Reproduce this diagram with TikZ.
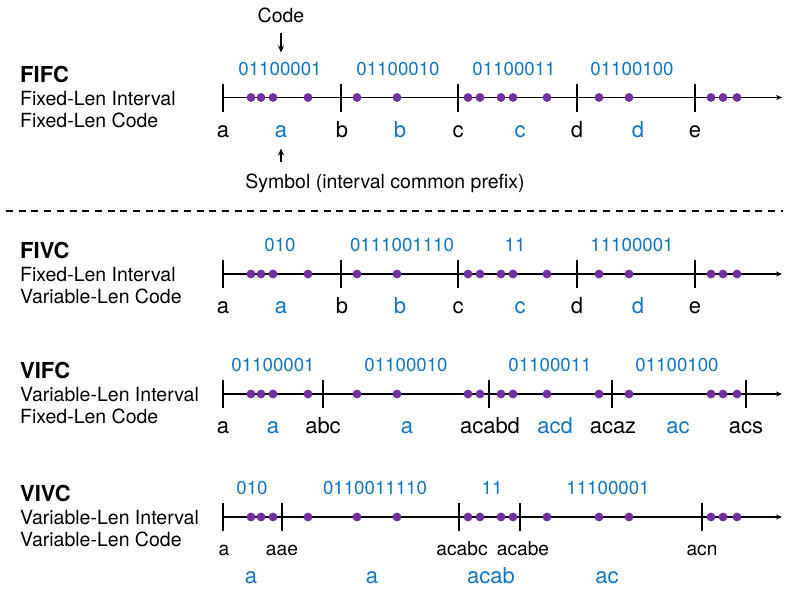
\documentclass[tikz,border=0pt]{standalone}
\usepackage{fontspec}
\setmainfont{TeX Gyre Heros}
\usetikzlibrary{arrows.meta}
\definecolor{codeblue}{RGB}{16,117,196}
\definecolor{dotpurple}{RGB}{112,48,160}
\def\numline(#1)(#2){\draw[axis] (223,#1) -- (782,#1); \foreach \t in {#2} \draw[tickmark] (\t,#1-14) -- (\t,#1+14);}
\def\dotrow(#1){\foreach \p in {251,261,273,308,357,397,468,480,501,513,547,599,629,711,723,737} \fill[dotpurple] (\p,#1) circle (4.4pt);}

\begin{document}
\begin{tikzpicture}[x=1pt,y=-1pt,
	axis/.style={line width=1.4pt,-{Stealth[length=6pt,width=5pt]}},
	tickmark/.style={line width=2.8pt},
	title/.style={anchor=base west,inner sep=0,font=\fontsize{22}{24}\selectfont\bfseries},
	desc/.style={anchor=base west,inner sep=0,font=\fontsize{19.5}{22}\selectfont},
	code/.style={anchor=base,inner sep=0,text=codeblue,font=\fontsize{18.7}{20}\selectfont},
	bound/.style={anchor=base,inner sep=0,font=\fontsize{22}{24}\selectfont},
	small/.style={anchor=base,inner sep=0,font=\fontsize{19.2}{21}\selectfont},
	sym/.style={bound,text=codeblue},
	note/.style={anchor=base,inner sep=0,font=\fontsize{19.5}{22}\selectfont},
	pointer/.style={line width=1.2pt,-{Stealth[length=7pt,width=6pt]}}]
		\useasboundingbox (0,0) rectangle (789,589);
		%%%%% FIFC %%%%%
		\node[title] (fifc) at (20,82) {FIFC};
		\node[desc] (fifc1) at (20,105) {Fixed-Len Interval};
		\node[desc] (fifc2) at (20,127) {Fixed-Len Code};
		
		\numline(97.5)(223,341,458,577,695)
		\dotrow(97.5)
		
		\node[code] (c1a) at (280,75) {01100001};
		\node[code] (c1b) at (398,75) {01100010};
		\node[code] (c1c) at (514,75) {01100011};
		\node[code] (c1d) at (632,75) {01100100};
		
		\node[bound] (b1a) at (223,137) {a};
		\node[bound] (b1b) at (342,137) {b};
		\node[bound] (b1c) at (458,137) {c};
		\node[bound] (b1d) at (577,137) {d};
		\node[bound] (b1e) at (695,137) {e};
		
		\node[sym] (s1a) at (281,137) {a};
		\node[sym] (s1b) at (400,137) {b};
		\node[sym] (s1c) at (520,137) {c};
		\node[sym] (s1d) at (638,137) {d};
		
		\node[note] (codenote) at (281,22) {Code};
		\node[note] (symnote) at (385,188) {Symbol (interval common prefix)};
		\draw[pointer,shorten <=10pt,shorten >=9pt] (codenote.south) -- (codenote.south |- c1a.north);
		\draw[pointer,shorten <=11pt,shorten >=11pt] (s1a.south |- symnote.north) -- (s1a.south);
		
		\draw[line width=2pt,dash pattern=on 7pt off 5.7pt] (6,211) -- (783,211);
		
		%%%%% FIVC %%%%%
		\node[title] (fivc) at (20,258) {FIVC};
		\node[desc] (fivc1) at (20,281) {Fixed-Len Interval};
		\node[desc] (fivc2) at (20,303) {Variable-Len Code};
		
		\numline(274)(223,341,458,577,695)
		\dotrow(274)
		
		\node[code] (c2a) at (280,251) {010};
		\node[code] (c2b) at (402,251) {0111001110};
		\node[code] (c2c) at (515,251) {11};
		\node[code] (c2d) at (632,251) {11100001};
		
		\node[bound] (b2a) at (223,313) {a};
		\node[bound] (b2b) at (342,313) {b};
		\node[bound] (b2c) at (458,313) {c};
		\node[bound] (b2d) at (577,313) {d};
		\node[bound] (b2e) at (695,313) {e};
		
		\node[sym] (s2a) at (281,313) {a};
		\node[sym] (s2b) at (400,313) {b};
		\node[sym] (s2c) at (520,313) {c};
		\node[sym] (s2d) at (638,313) {d};
		
		%%%%% VIFC %%%%%
		\node[title] (vifc) at (20,378) {VIFC};
		\node[desc] (vifc1) at (20,401) {Variable-Len Interval};
		\node[desc] (vifc2) at (20,423) {Fixed-Len Code};
		
		\numline(394)(223,323,489,612,746)
		\dotrow(394)
		
		\node[code] (c3a) at (273,371) {01100001};
		\node[code] (c3b) at (406,371) {01100010};
		\node[code] (c3c) at (550,371) {01100011};
		\node[code] (c3d) at (677,371) {01100100};
		
		\node[bound] (b3a) at (223,433) {a};
		\node[bound] (b3b) at (323,433) {abc};
		\node[bound] (b3c) at (490,433) {acabd};
		\node[bound] (b3d) at (613,433) {acaz};
		\node[bound] (b3e) at (746,433) {acs};
		
		\node[sym] (s3a) at (273,433) {a};
		\node[sym] (s3b) at (407,433) {a};
		\node[sym] (s3c) at (555,433) {acd};
		\node[sym] (s3d) at (678,433) {ac};
		
		%%%%% VIVC %%%%%
		\node[title] (vivc) at (20,501) {VIVC};
		\node[desc] (vivc1) at (20,524) {Variable-Len Interval};
		\node[desc] (vivc2) at (20,546) {Variable-Len Code};
		
		\numline(517)(223,282,459,520,702)
		\dotrow(517)
		
		\node[code] (c4a) at (252,494) {010};
		\node[code] (c4b) at (375,494) {0110011110};
		\node[code] (c4c) at (492,494) {11};
		\node[code] (c4d) at (608,494) {11100001};
		
		\node[small] (b4a) at (224,555) {a};
		\node[small] (b4b) at (282,555) {aae};
		\node[small] (b4c) at (462,555) {acabc};
		\node[small] (b4d) at (523,555) {acabe};
		\node[small] (b4e) at (702,555) {acn};
		
		\node[sym] (s4a) at (251,583) {a};
		\node[sym] (s4b) at (372,583) {a};
		\node[sym] (s4c) at (491,583) {acab};
		\node[sym] (s4d) at (607,583) {ac};
	\end{tikzpicture}
\end{document}
